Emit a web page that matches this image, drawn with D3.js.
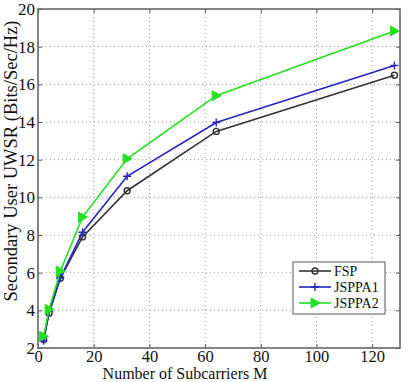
<!DOCTYPE html>
<html>
<head>
<meta charset="utf-8">
<script src="https://cdn.jsdelivr.net/npm/d3@7"></script>
<style>
  body { margin: 0; background: #fff; }
  svg text { font-family: "Liberation Serif", "Times New Roman", serif; fill: #111; }
</style>
</head>
<body>
<svg id="chart" width="410" height="382"></svg>
<script>
// number of subcarriers
const subcarriers = [2, 4, 8, 16, 32, 64, 128];

// secondary user UWSR values
const fsp = [2.45, 3.85, 5.7, 7.9, 10.35, 13.5, 16.48];
const jsppa1 = [2.38, 3.95, 5.72, 8.15, 11.12, 13.97, 17.0];
const jsppa2 = [2.62, 4.05, 6.08, 8.95, 12.05, 15.4, 18.83];

const xTicks = [0, 20, 40, 60, 80, 100, 120];
const yTicks = [2, 4, 6, 8, 10, 12, 14, 16, 18, 20];

const series = [
    { name: "FSP", values: fsp, color: "#333333", marker: "circle" },
    { name: "JSPPA1", values: jsppa1, color: "#2424c0", marker: "plus" },
    { name: "JSPPA2", values: jsppa2, color: "#22e022", marker: "triangle" }
];

const margin = { top: 9, right: 10, bottom: 34, left: 38 },
    width = 410 - margin.left - margin.right,
    height = 382 - margin.top - margin.bottom;

const svg = d3.select("#chart")
    .append("g")
    .attr("transform", `translate(${margin.left},${margin.top})`);

const x = d3.scaleLinear().domain([0, 130]).range([0, width]);
const y = d3.scaleLinear().domain([2, 20]).range([height, 0]);

// dotted grid
svg.append("g").selectAll("line")
    .data(xTicks.slice(1))
    .join("line")
    .attr("x1", d => x(d)).attr("x2", d => x(d))
    .attr("y1", 0).attr("y2", height)
    .attr("stroke", "#999").attr("stroke-width", 1)
    .attr("stroke-dasharray", "1,3");

svg.append("g").selectAll("line")
    .data(yTicks.slice(1, -1))
    .join("line")
    .attr("x1", 0).attr("x2", width)
    .attr("y1", d => y(d)).attr("y2", d => y(d))
    .attr("stroke", "#999").attr("stroke-width", 1)
    .attr("stroke-dasharray", "1,3");

// axes, ticks pointing inward like matlab
const xAxis = svg.append("g")
    .attr("transform", `translate(0,${height})`)
    .call(d3.axisBottom(x).tickValues(xTicks).tickSizeInner(-4).tickSizeOuter(0).tickPadding(2));
const yAxis = svg.append("g")
    .call(d3.axisLeft(y).tickValues(yTicks).tickSizeInner(-4).tickSizeOuter(0).tickPadding(3));

svg.append("g")
    .call(d3.axisTop(x).tickValues(xTicks).tickSizeInner(-4).tickSizeOuter(0).tickFormat(""));
svg.append("g")
    .attr("transform", `translate(${width},0)`)
    .call(d3.axisRight(y).tickValues(yTicks).tickSizeInner(-4).tickSizeOuter(0).tickFormat(""));

svg.selectAll(".domain").attr("stroke", "none");
svg.selectAll(".tick line").attr("stroke", "#555");
xAxis.selectAll("text").style("font-size", "16.5px");
yAxis.selectAll("text").style("font-size", "17px");

svg.append("rect")
    .attr("width", width).attr("height", height)
    .attr("fill", "none").attr("stroke", "#666").attr("stroke-width", 1.6);

// lines
const line = d3.line()
    .x((d, i) => x(subcarriers[i]))
    .y(d => y(d));

function drawMarker(g, type, color) {
    if (type === "circle") {
        g.append("circle").attr("r", 3).attr("fill", "none")
            .attr("stroke", color).attr("stroke-width", 1.4);
    } else if (type === "plus") {
        g.append("path").attr("d", "M-4,0H4M0,-4V4")
            .attr("stroke", color).attr("stroke-width", 1.4);
    } else {
        g.append("path").attr("d", "M-4,-5L5,0L-4,5Z")
            .attr("fill", color).attr("stroke", color);
    }
}

series.forEach(s => {
    svg.append("path")
        .datum(s.values)
        .attr("d", line)
        .attr("fill", "none")
        .attr("stroke", s.color)
        .attr("stroke-width", 1.6);

    svg.append("g").selectAll("g")
        .data(s.values)
        .join("g")
        .attr("transform", (d, i) => `translate(${x(subcarriers[i])},${y(d)})`)
        .each(function () { drawMarker(d3.select(this), s.marker, s.color); });
});

// legend
const legend = svg.append("g").attr("transform", `translate(${255},${253})`);
legend.append("rect")
    .attr("width", 92).attr("height", 52)
    .attr("fill", "#fff").attr("stroke", "#555").attr("stroke-width", 1);

series.forEach((s, i) => {
    const row = legend.append("g").attr("transform", `translate(0,${9 + i * 16})`);
    row.append("line").attr("x1", 6).attr("x2", 38)
        .attr("stroke", s.color).attr("stroke-width", 1.6);
    drawMarker(row.append("g").attr("transform", "translate(22,0)"), s.marker, s.color);
    row.append("text").attr("x", 41).attr("y", 5)
        .style("font-size", "14px").text(s.name);
});

// axis titles
svg.append("text")
    .attr("x", 185 - margin.left).attr("y", 379 - margin.top)
    .attr("text-anchor", "middle")
    .style("font-size", "16px")
    .text("Number of Subcarriers M");

svg.append("text")
    .attr("transform", `translate(${17 - margin.left},${161 - margin.top}) rotate(-90)`)
    .attr("text-anchor", "middle")
    .style("font-size", "18.5px")
    .text("Secondary User UWSR (Bits/Sec/Hz)");
</script>
</body>
</html>
